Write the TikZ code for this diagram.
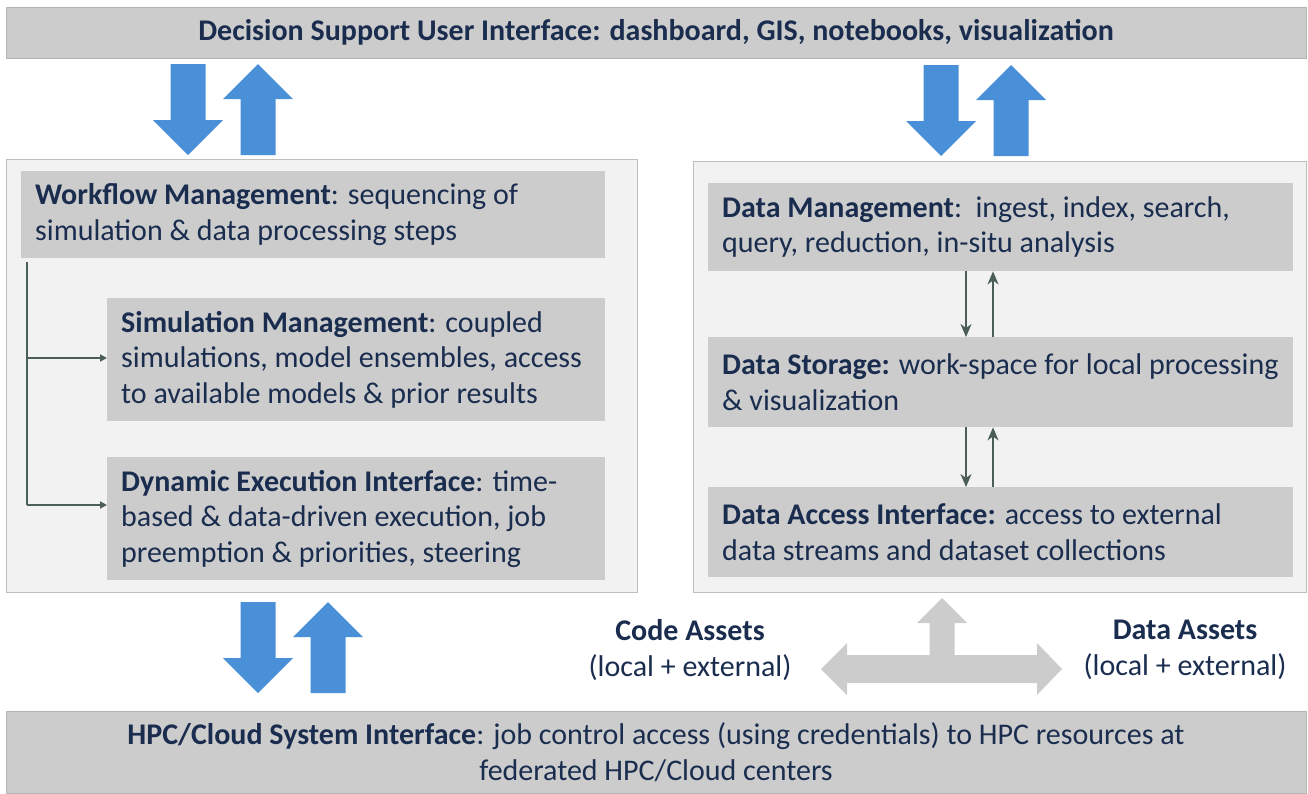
\documentclass[tikz,border=0pt]{standalone}
\usepackage{fontspec}
\setmainfont{Carlito}
\usetikzlibrary{arrows.meta}
\definecolor{txtc}{HTML}{1A2D4F}
\definecolor{boxg}{HTML}{CCCCCC}
\definecolor{contg}{HTML}{F2F2F2}
\definecolor{contb}{HTML}{BFBFBF}
\definecolor{barb}{HTML}{B4B4B4}
\definecolor{blueA}{HTML}{4A90D9}
\definecolor{conc}{HTML}{4B5E5A}
\tikzset{
  bar/.style={draw=barb, line width=0.8pt, fill=boxg, inner sep=0pt, text=txtc,
    font=\fontsize{30}{35.5}\selectfont, align=center},
  cont/.style={draw=contb, line width=0.8pt, fill=contg, inner sep=0pt},
  ibox/.style={fill=boxg, inner sep=0pt, anchor=north west},
  txt/.style={text=txtc, font=\fontsize{30}{35.5}\selectfont, align=left, inner sep=0pt, anchor=west},
  asset/.style={text=txtc, font=\fontsize{30}{35.5}\selectfont, align=center, inner sep=0pt},
  conn/.style={draw=conc, line width=1.6pt},
  tri/.style={conn, -{Triangle[length=7pt,width=7pt]}},
  stl/.style={conn, -{Stealth[length=13pt,width=11pt,inset=4pt]}},
  bigdown/.pic={\fill[blueA] (-17.5,0) -- (17.5,0) -- (17.5,56) -- (35,56) -- (0,91) -- (-35,56) -- (-17.5,56) -- cycle;},
  bigup/.pic={\fill[blueA] (0,0) -- (35,35) -- (17.5,35) -- (17.5,91) -- (-17.5,91) -- (-17.5,35) -- (-35,35) -- cycle;}
}
\begin{document}
\begin{tikzpicture}[x=1pt,y=-1pt]
\useasboundingbox (0,0) rectangle (1308,793);
% top and bottom bars
\node[bar, minimum width=1300pt, minimum height=51pt] (dsui) at (656,32.5)
  {\textbf{Decision Support User Interface: dashboard, GIS, notebooks, visualization}};
\node[bar, minimum width=1300pt, minimum height=82pt] (hpc) at (656,752)
  {\textbf{HPC/Cloud System Interface}: job control access (using credentials) to HPC resources at\\federated HPC/Cloud centers};
% containers
\node[cont, minimum width=631pt, minimum height=433pt, anchor=north west] (lcont) at (6,159) {};
\node[cont, minimum width=613pt, minimum height=431pt, anchor=north west] (rcont) at (693,161) {};
% left boxes
\node[ibox, minimum width=584pt, minimum height=87pt] (wf) at (21,171) {};
\node[txt] (wft) at ([xshift=14pt]wf.west) {\textbf{Workflow Management}: sequencing of\\simulation \& data processing steps};
\node[ibox, minimum width=498pt, minimum height=123pt] (sim) at (107,298) {};
\node[txt] (simt) at ([xshift=14pt]sim.west) {\textbf{Simulation Management}: coupled\\simulations, model ensembles, access\\to available models \& prior results};
\node[ibox, minimum width=498pt, minimum height=123pt] (dyn) at (107,457) {};
\node[txt] (dynt) at ([xshift=14pt]dyn.west) {\textbf{Dynamic Execution Interface}: time-\\based \& data-driven execution, job\\preemption \& priorities, steering};
% right boxes
\node[ibox, minimum width=585pt, minimum height=88pt] (dm) at (708,183) {};
\node[txt] (dmt) at ([xshift=14pt]dm.west) {\textbf{Data Management}:\ \ ingest, index, search,\\query, reduction, in-situ analysis};
\node[ibox, minimum width=585pt, minimum height=90pt] (ds) at (708,337) {};
\node[txt] (dst) at ([xshift=14pt]ds.west) {\textbf{Data Storage:} work-space for local processing\\\& visualization};
\node[ibox, minimum width=585pt, minimum height=90pt] (da) at (708,487) {};
\node[txt] (dat) at ([xshift=14pt]da.west) {\textbf{Data Access Interface:} access to external\\data streams and dataset collections};
% assets
\node[asset] (code) at (690,650) {\textbf{Code Assets}\\(local + external)};
\node[asset] (data) at (1185,650) {\textbf{Data Assets}\\(local + external)};
% big blue arrows
\pic at (188,64) {bigdown};
\pic at (258,64) {bigup};
\pic at (941,65) {bigdown};
\pic at (1011,65) {bigup};
\pic at (258,602) {bigdown};
\pic at (328,602) {bigup};
% gray T arrow
\fill[boxg] (942,598) -- (967,623) -- (954.5,623) -- (954.5,655) -- (1037,655) -- (1037,643)
  -- (1062,669) -- (1037,695) -- (1037,683) -- (847,683) -- (847,695) -- (821,669)
  -- (847,643) -- (847,655) -- (929.5,655) -- (929.5,623) -- (917,623) -- cycle;
% left connectors
\coordinate (trunk) at (27,262);
\coordinate (xa) at (966,0);
\coordinate (xb) at (993,0);
\draw[conn] (trunk) -- (27,505);
\draw[tri] (27,358) -- (sim.west |- 0,358);
\draw[tri] (27,505) -- (dyn.west |- 0,505);
% small vertical arrows
\draw[stl] (dm.south -| xa) -- (ds.north -| xa);
\draw[stl] (ds.north -| xb) -- (dm.south -| xb);
\draw[stl] (ds.south -| xa) -- (da.north -| xa);
\draw[stl] (da.north -| xb) -- (ds.south -| xb);
\end{tikzpicture}
\end{document}
